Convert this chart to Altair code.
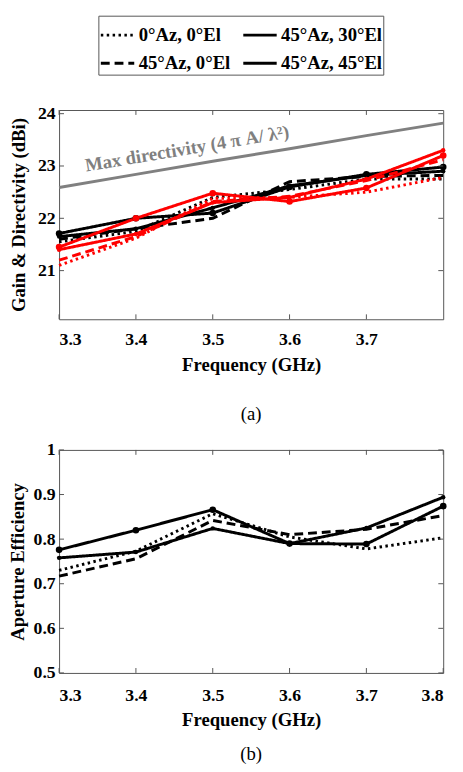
import altair as alt
import pandas as pd

# ---------------- data ----------------
freq = [3.3, 3.4, 3.5, 3.6, 3.7, 3.8]
series_names = ["0°Az, 0°El", "45°Az, 30°El", "45°Az, 0°El", "45°Az, 45°El"]

# top panel: gain (black set) and (red set)
black_0_0 = [21.55, 21.75, 22.40, 22.55, 22.75, 22.75]
black_45_30 = [21.71, 22.00, 22.10, 22.60, 22.84, 22.98]
black_45_0 = [21.60, 21.80, 22.00, 22.70, 22.80, 22.82]
black_45_45 = [21.65, 21.80, 22.20, 22.62, 22.82, 22.90]

red_0_0 = [21.10, 21.62, 22.38, 22.40, 22.50, 22.78]
red_45_30 = [21.45, 22.00, 22.48, 22.32, 22.58, 23.20]
red_45_0 = [21.20, 21.65, 22.32, 22.42, 22.72, 23.12]
red_45_45 = [21.40, 21.70, 22.30, 22.40, 22.75, 23.30]

max_directivity = [22.59, 22.84, 23.09, 23.33, 23.58, 23.82]
max_dir_label = "Max directivity (4 π A/ λ²)"

# bottom panel: aperture efficiency
eff_0_0 = [0.730, 0.773, 0.857, 0.805, 0.778, 0.803]
eff_45_30 = [0.776, 0.820, 0.866, 0.790, 0.789, 0.874]
eff_45_0 = [0.717, 0.756, 0.842, 0.810, 0.822, 0.853]
eff_45_45 = [0.758, 0.771, 0.824, 0.790, 0.825, 0.894]

top_xticks = [3.3, 3.4, 3.5, 3.6, 3.7]
top_yticks = [21, 22, 23, 24]
bot_xticks = [3.3, 3.4, 3.5, 3.6, 3.7, 3.8]
bot_yticks = [0.5, 0.6, 0.7, 0.8, 0.9, 1.0]

# ---------------- tables ----------------
def long(sets, kind):
    rows = []
    for name, vals in zip(series_names, sets):
        for f, v in zip(freq, vals):
            rows.append({"freq": f, "value": v, "series": name, "kind": kind})
    return pd.DataFrame(rows)

black_df = long([black_0_0, black_45_30, black_45_0, black_45_45], "black")
red_df = long([red_0_0, red_45_30, red_45_0, red_45_45], "red")
eff_df = long([eff_0_0, eff_45_30, eff_45_0, eff_45_45], "black")
maxdir_df = pd.DataFrame({"freq": freq, "value": max_directivity})
label_df = pd.DataFrame({
    "freq": [(freq[1] + freq[2]) / 2],
    "value": [(max_directivity[1] + max_directivity[2]) / 2],
    "label": [max_dir_label],
})

FONT = "Times New Roman, Liberation Serif, Times, serif"
W = 391
H1 = 213
H2 = 227
AX = "#555555"

dash_scale = alt.Scale(domain=series_names,
                       range=[[2.5, 3.5], [1, 0], [9, 5], [1, 0]])
color_scale = alt.Scale(domain=["black", "red"], range=["#000000", "#ff0000"])

legend = alt.Legend(
    title=None, orient="none", legendX=40, legendY=-96, columns=2,
    direction="horizontal", symbolType="stroke", symbolSize=1156,
    symbolStrokeWidth=3, symbolStrokeColor="black", labelFont=FONT,
    labelFontSize=19, labelFontWeight="bold", labelColor="black",
    strokeColor=AX, fillColor="white", padding=1, rowPadding=0,
    columnPadding=6, labelOffset=3, labelLimit=300,
)

# ---------------- top panel ----------------
x_top_scale = alt.Scale(domain=[3.3, 3.8], nice=False, zero=False)
y_top_scale = alt.Scale(domain=[20.07, 24.07], nice=False, zero=False)

x_top = alt.X("freq:Q", scale=x_top_scale,
              axis=alt.Axis(values=top_xticks, format=".1f",
                            title="Frequency (GHz)", labelPadding=12,
                            titlePadding=7))
y_top = alt.Y("value:Q", scale=y_top_scale,
              axis=alt.Axis(values=top_yticks, format="d",
                            title="Gain & Directivity (dBi)",
                            labelPadding=4, titlePadding=9))

maxdir_line = alt.Chart(maxdir_df).mark_line(color="#808080", strokeWidth=3).encode(
    x=x_top, y=y_top)
maxdir_text = alt.Chart(label_df).mark_text(
    angle=350.5, dx=16, dy=-17, font=FONT, fontSize=19, fontWeight="bold",
    color="#808080", align="center", baseline="middle").encode(
    x=alt.X("freq:Q", scale=x_top_scale),
    y=alt.Y("value:Q", scale=y_top_scale), text="label:N")


def lines(df, xenc, yenc, leg):
    return alt.Chart(df).mark_line(strokeWidth=3, strokeCap="butt").encode(
        x=xenc, y=yenc,
        color=alt.Color("kind:N", scale=color_scale, legend=None),
        strokeDash=alt.StrokeDash("series:N", scale=dash_scale, legend=leg),
        detail="series:N",
    )


def points(df, xenc, yenc):
    big = alt.Chart(df).transform_filter(
        alt.datum.series == series_names[1]).mark_point(
        filled=True, shape="circle", size=45, opacity=1).encode(
        x=xenc, y=yenc,
        color=alt.Color("kind:N", scale=color_scale, legend=None))
    small = alt.Chart(df).transform_filter(
        alt.datum.series == series_names[3]).mark_point(
        filled=True, shape="circle", size=20, opacity=1).encode(
        x=xenc, y=yenc,
        color=alt.Color("kind:N", scale=color_scale, legend=None))
    return big + small


def inner_ticks(xticks, yticks, xs, ys, w, h):
    lt = alt.Chart(pd.DataFrame({"value": yticks})).mark_rule(color=AX).encode(
        y=alt.Y("value:Q", scale=ys), x=alt.value(0), x2=alt.value(5))
    rt = alt.Chart(pd.DataFrame({"value": yticks})).mark_rule(color=AX).encode(
        y=alt.Y("value:Q", scale=ys), x=alt.value(w - 5), x2=alt.value(w))
    bt = alt.Chart(pd.DataFrame({"freq": xticks})).mark_rule(color=AX).encode(
        x=alt.X("freq:Q", scale=xs), y=alt.value(h - 5), y2=alt.value(h))
    tt = alt.Chart(pd.DataFrame({"freq": xticks})).mark_rule(color=AX).encode(
        x=alt.X("freq:Q", scale=xs), y=alt.value(0), y2=alt.value(5))
    return lt + rt + bt + tt


top = alt.layer(
    maxdir_line,
    maxdir_text,
    lines(black_df, x_top, y_top, legend),
    lines(red_df, x_top, y_top, legend),
    points(black_df, x_top, y_top),
    points(red_df, x_top, y_top),
    inner_ticks(top_xticks, top_yticks, x_top_scale, y_top_scale, W, H1),
).properties(
    width=W, height=H1,
    title=alt.TitleParams("(a)", orient="bottom", font=FONT, fontSize=19,
                          fontWeight="normal", color="black", offset=32),
)

# ---------------- bottom panel ----------------
x_bot_scale = alt.Scale(domain=[3.3, 3.8], nice=False, zero=False)
y_bot_scale = alt.Scale(domain=[0.5, 1.0], nice=False, zero=False)

x_bot = alt.X("freq:Q", scale=x_bot_scale,
              axis=alt.Axis(values=bot_xticks, format=".1f",
                            title="Frequency (GHz)", labelPadding=14,
                            titlePadding=7))
y_bot = alt.Y("value:Q", scale=y_bot_scale,
              axis=alt.Axis(values=bot_yticks,
                            labelExpr="datum.value == 1 ? '1' : format(datum.value, '.1f')",
                            title="Aperture Efficiency",
                            labelPadding=4, titlePadding=6))

bottom = alt.layer(
    lines(eff_df, x_bot, y_bot, None),
    points(eff_df, x_bot, y_bot),
    inner_ticks(bot_xticks, bot_yticks, x_bot_scale, y_bot_scale, W, H2),
).properties(
    width=W, height=H2,
    title=alt.TitleParams("(b)", orient="bottom", font=FONT, fontSize=19,
                          fontWeight="normal", color="black", offset=16),
)

chart = alt.vconcat(top, bottom, spacing=15).resolve_legend(
    strokeDash="independent"
).properties(
    padding={"left": 0, "top": 0, "right": 5, "bottom": 0},
).configure_axis(
    labelFont=FONT, labelFontSize=18, labelFontWeight="bold", labelColor="black",
    titleFont=FONT, titleFontSize=19, titleFontWeight="bold", titleColor="black",
    domain=False, ticks=False, grid=False,
).configure_view(
    stroke=AX, strokeWidth=1,
)

chart.save("out.html", embed_options={"renderer": "svg", "actions": False})
